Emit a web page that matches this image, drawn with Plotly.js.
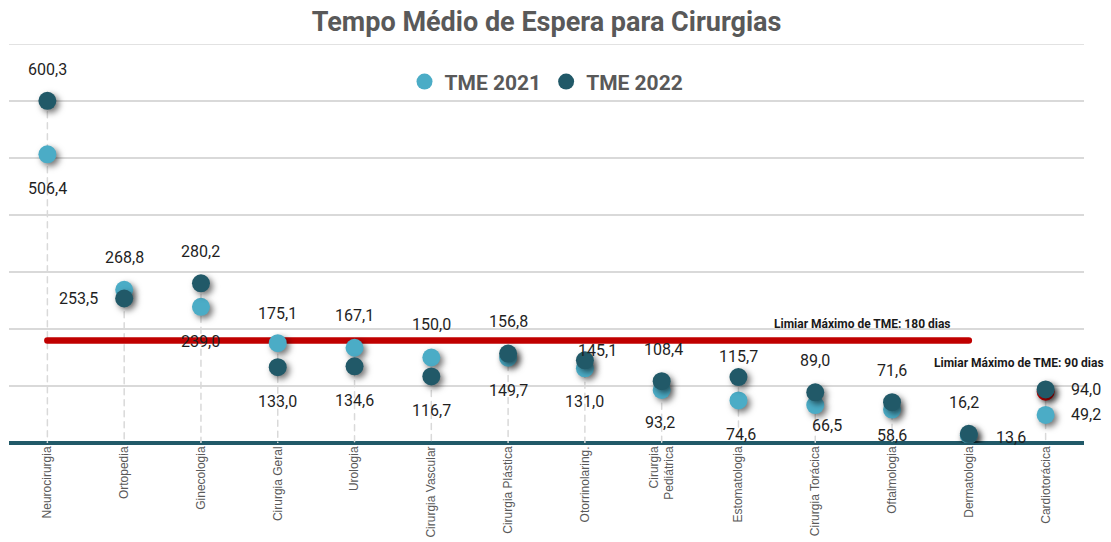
<!DOCTYPE html>
<html>
<head>
<meta charset="utf-8">
<script src="https://cdn.plot.ly/plotly-3.0.1.min.js"></script>
<style>
  html, body { margin: 0; padding: 0; background: #fff; }
  #chart { width: 1111px; height: 542px; }
  .scatterlayer .trace path.point { filter: drop-shadow(3px 3px 3px rgba(0,0,0,0.55)); }
  .scatterlayer .trace path.js-line { stroke-linecap: round; }
</style>
</head>
<body>
<div id="chart"></div>
<script>
// ---- data ----
const categories = ["Neurocirurgia", "Ortopedia", "Ginecologia", "Cirurgia Geral", "Urologia",
  "Cirurgia Vascular", "Cirurgia Plástica", "Otorrinolaring.", "Cirurgia<br>Pediátrica",
  "Estomatologia", "Cirurgia Torácica", "Oftalmologia", "Dermatologia", "Cardiotorácica"];
const tme2021 = [506.4, 268.8, 239.0, 175.1, 167.1, 150.0, 149.7, 131.0, 93.2, 74.6, 66.5, 58.6, 13.6, 49.2];
const tme2022 = [600.3, 253.5, 280.2, 133.0, 134.6, 116.7, 156.8, 145.1, 108.4, 115.7, 89.0, 71.6, 16.2, 94.0];
const limit180 = 180;
const limit90 = 90;
const limit180From = "Neurocirurgia";
const limit180To = "Dermatologia";
const limit90At = "Cardiotorácica";
const yMax = 700;

// ---- label placement (pixel shifts, layout only) ----
const shift2021 = [[0,-34],[0,32],[0,-35],[0,30],[0,32],[0,33],[0,-33],[0,-33],[-2,-33],[3,-34],[12,-20],[0,-26],[42,-2],[40,0]];
const shift2022 = [[0,31],[-46,0],[0,32],[0,-34],[0,-34],[0,-34],[0,32],[13,10],[2,32],[0,21],[0,32],[0,32],[-5,31],[40,0]];

const C_LIGHT = "#4BACC6", C_DARK = "#215968", C_RED = "#C00000";
const fmt = v => v.toFixed(1).replace(".", ",");

// drop lines
const dropX = [], dropY = [];
categories.forEach((c, i) => {
  dropX.push(c, c, c);
  dropY.push(Math.max(tme2021[i], tme2022[i]), 0, null);
});

const traces = [
  { x: dropX, y: dropY, mode: "lines", type: "scatter", showlegend: false, hoverinfo: "skip",
    line: { color: "#d9d9d9", width: 1.5, dash: "6px,5px" } },
  { x: [limit180From, limit180To], y: [limit180, limit180], mode: "lines", type: "scatter",
    showlegend: false, line: { color: C_RED, width: 6.5 } },
  { x: [limit90At], y: [limit90], mode: "markers", type: "scatter", showlegend: false,
    marker: { color: C_RED, size: 18 } },
  { x: categories, y: tme2021, name: "TME 2021", mode: "markers", type: "scatter",
    marker: { color: C_LIGHT, size: 18 } },
  { x: categories, y: tme2022, name: "TME 2022", mode: "markers", type: "scatter",
    marker: { color: C_DARK, size: 18 } }
];

const annotations = [];
const labFont = { family: "Roboto", size: 16, color: "#1f1f1f" };
categories.forEach((c, i) => {
  annotations.push({ x: c, y: tme2021[i], text: fmt(tme2021[i]), showarrow: false,
    xshift: shift2021[i][0], yshift: shift2021[i][1], font: labFont });
  annotations.push({ x: c, y: tme2022[i], text: fmt(tme2022[i]), showarrow: false,
    xshift: shift2022[i][0], yshift: shift2022[i][1], font: labFont });
});
const limFont = { family: "Roboto", size: 12, color: "#1a1a1a" };
annotations.push({ x: "Oftalmologia", y: limit180, text: "<b>Limiar Máximo de TME: 180 dias</b>",
  showarrow: false, xshift: -30, yshift: 16, font: limFont });
annotations.push({ x: limit90At, y: limit90, text: "<b>Limiar Máximo de TME: 90 dias</b>",
  showarrow: false, xshift: -27, yshift: 29, font: limFont });

const layout = {
  width: 1111, height: 542,
  margin: { l: 9, r: 27, t: 44, b: 99 },
  paper_bgcolor: "#fff", plot_bgcolor: "#fff",
  title: { text: "<b>Tempo Médio de Espera para Cirurgias</b>", x: 0.492, xanchor: "center",
    y: 0.96, yanchor: "middle", yref: "container",
    font: { family: "Roboto", size: 27, color: "#595959" } },
  xaxis: { type: "category", showgrid: false, zeroline: false, showline: false,
    tickangle: -90, ticks: "", tickfont: { family: "Liberation Sans", size: 12, color: "#595959" },
    range: [-0.5, categories.length - 0.5] },
  yaxis: { range: [0, yMax], dtick: 100, showticklabels: false, gridcolor: "#d9d9d9", gridwidth: 1.5,
    zeroline: true, zerolinecolor: C_DARK, zerolinewidth: 4, fixedrange: true },
  shapes: [{ type: "line", xref: "paper", x0: 0, x1: 1, yref: "y", y0: yMax, y1: yMax,
    line: { color: "#d9d9d9", width: 1.5 }, layer: "below" }],
  showlegend: true,
  legend: { orientation: "h", x: 0.5, xanchor: "center", y: 0.905, yanchor: "middle",
    font: { family: "Roboto", size: 21, color: "#595959", weight: "bold" },
    bgcolor: "rgba(0,0,0,0)" },
  annotations: annotations
};

Plotly.newPlot("chart", traces, layout, { displayModeBar: false, staticPlot: true });
</script>
</body>
</html>
